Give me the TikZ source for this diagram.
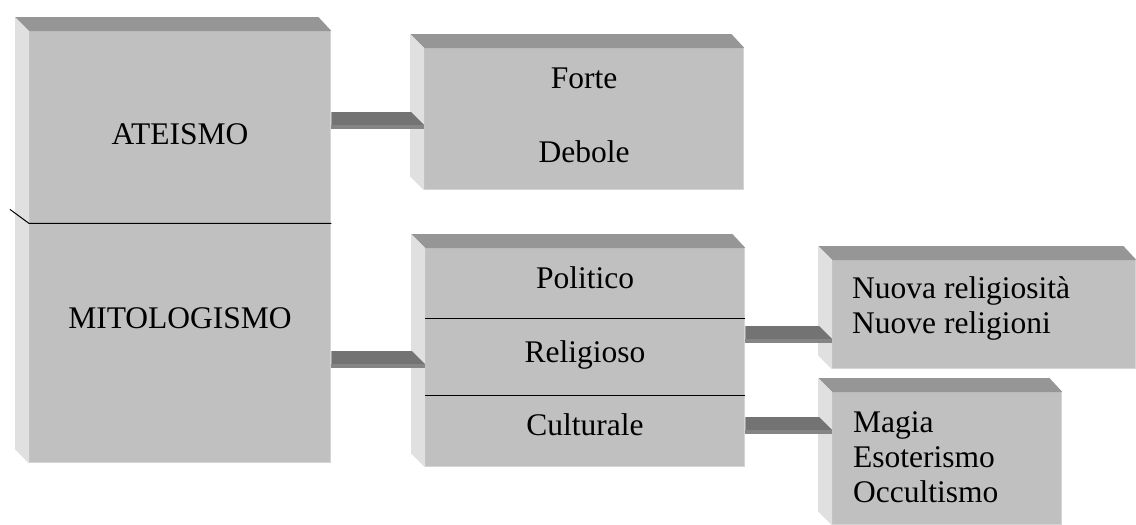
\documentclass[tikz,border=0pt]{standalone}
\usepackage{fontspec}
\setmainfont{Liberation Serif}

\definecolor{frontgray}{HTML}{C0C0C0}
\definecolor{topgray}{HTML}{969696}
\definecolor{sidegray}{HTML}{E0E0E0}
\definecolor{rimgray}{HTML}{D4D4D4}
\definecolor{bartopgray}{HTML}{737373}
\definecolor{barfootgray}{HTML}{858585}

\tikzset{
    face/.style={fill=frontgray, draw=none, inner sep=0pt, anchor=north west},
    word/.style={font=\fontsize{31.5}{35}\selectfont, inner sep=0pt, anchor=base},
    wordleft/.style={word, anchor=base west},
    rim/.style={draw=rimgray, line width=1.5pt},
    divider/.style={draw=black, line width=1pt},
    bartop/.style={fill=bartopgray},
    barfoot/.style={fill=barfootgray},
}

% top and side faces of a block: #1 upper front node, #2 lower front node
\newcommand\slab[2]{%
    \fill[topgray] (#1.north west) -- (#1.north east) -- ++(-13pt,14pt)
        -- ([shift={(-14pt,14pt)}]#1.north west) -- cycle;
    \fill[sidegray] (#1.north west) -- ([shift={(-14pt,14pt)}]#1.north west)
        -- ([shift={(-14pt,14pt)}]#2.south west) -- (#2.south west) -- cycle;
    \draw[rim] ([xshift=-0.75pt]#1.north east) -- ([xshift=-0.75pt,yshift=0.75pt]#2.south east)
        -- ([yshift=0.75pt]#2.south west);
}

% flat bar between two blocks: #1 from, #2 to, #3 height of its centre
\newcommand\linkbar[3]{%
    \coordinate (barstart) at (#1.east |- 0,#3);
    \coordinate (barend) at (#2.west |- 0,#3);
    \fill[bartop] ([yshift=9pt]barstart) -- ([xshift=-13pt,yshift=9pt]barend)
        -- ([yshift=-4pt]barend) -- ([yshift=-4pt]barstart) -- cycle;
    \fill[barfoot] ([yshift=-4pt]barstart) rectangle ([yshift=-8pt]barend);
}

\begin{document}
\begin{tikzpicture}[x=1pt, y=-1pt]
    \useasboundingbox (0,0) rectangle (1136,525);

    % front faces
    \node[face, minimum width=302pt, minimum height=192pt] (ateismo) at (29,31) {};
    \node[face, minimum width=302pt, minimum height=240pt] (mitologismo) at (29,223) {};
    \node[face, minimum width=320pt, minimum height=142pt] (forte) at (424,48) {};
    \node[face, minimum width=320pt, minimum height=70pt] (politico) at (425,248) {};
    \node[face, minimum width=320pt, minimum height=77pt] (religioso) at (425,318) {};
    \node[face, minimum width=320pt, minimum height=72pt] (culturale) at (425,395) {};
    \node[face, minimum width=304pt, minimum height=109pt] (nuova) at (832,260) {};
    \node[face, minimum width=230pt, minimum height=133pt] (magia) at (832,392) {};

    \slab{ateismo}{mitologismo}
    \slab{forte}{forte}
    \slab{politico}{culturale}
    \slab{nuova}{nuova}
    \slab{magia}{magia}

    % dividers
    \draw[divider] ([xshift=-19pt,yshift=14pt]ateismo.south west) -- (ateismo.south west)
        -- (ateismo.south east);
    \draw[divider] (politico.south west) -- (politico.south east);
    \draw[divider] (religioso.south west) -- (religioso.south east);

    % connectors
    \linkbar{ateismo}{forte}{121}
    \linkbar{mitologismo}{religioso}{360}
    \linkbar{religioso}{nuova}{335}
    \linkbar{culturale}{magia}{426}

    % texts
    \node[word] (t-ateismo) at (180,144) {ATEISMO};
    \node[word] (t-mitologismo) at (180,328) {MITOLOGISMO};
    \node[word] (t-forte) at (584,88) {Forte};
    \node[word] (t-debole) at (584,162) {Debole};
    \node[word] (t-politico) at (585,288) {Politico};
    \node[word] (t-religioso) at (585,362) {Religioso};
    \node[word] (t-culturale) at (585,435) {Culturale};
    \node[wordleft] (t-nuova) at (852,298) {Nuova religiosità};
    \node[wordleft] (t-nuove) at (852,333) {Nuove religioni};
    \node[wordleft] (t-magia) at (853,432) {Magia};
    \node[wordleft] (t-esoterismo) at (853,467) {Esoterismo};
    \node[wordleft] (t-occultismo) at (853,502) {Occultismo};
\end{tikzpicture}
\end{document}
